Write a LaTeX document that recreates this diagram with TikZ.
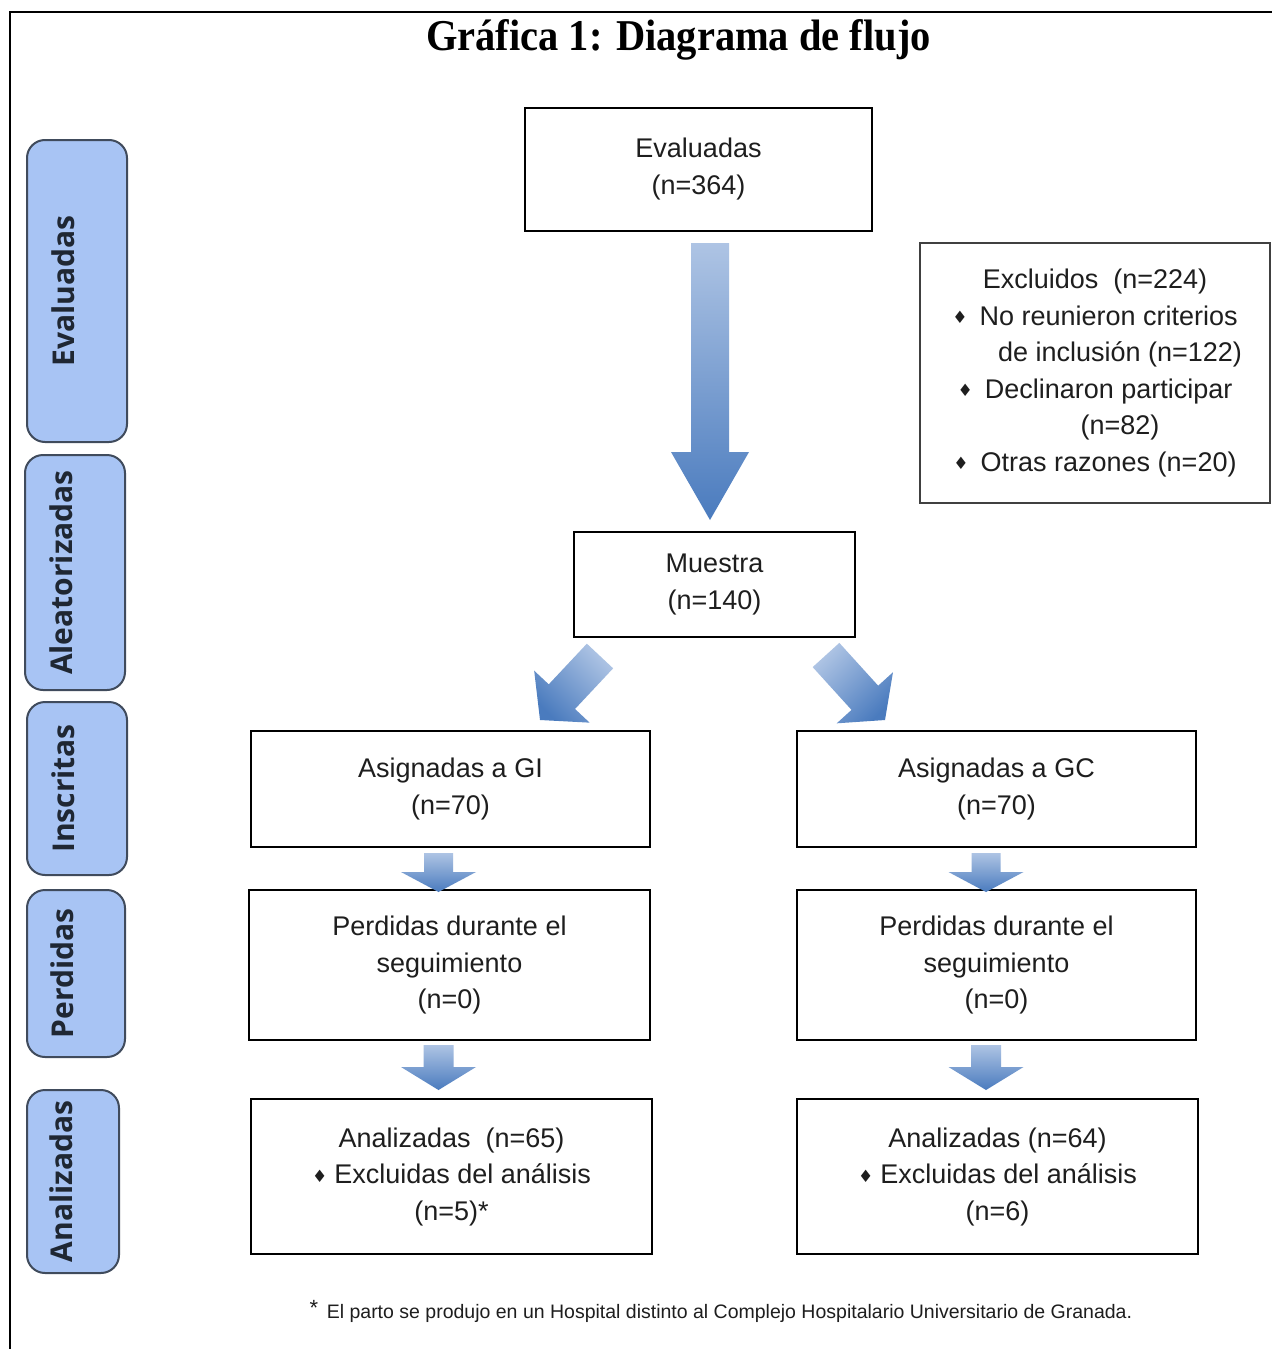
\documentclass[tikz,border=0pt]{standalone}
\usepackage{fontspec}
\usepackage{graphicx}
\setmainfont{Liberation Sans}
\newfontfamily\titlefont{Liberation Serif}
\newfontfamily\labfont{Open Sans}
\newfontfamily\symfont{DejaVu Sans}
\usetikzlibrary{calc}
\definecolor{labfill}{HTML}{A8C4F4}
\definecolor{labdraw}{HTML}{404B5C}
\definecolor{labtxt}{HTML}{1F2733}
\definecolor{arrlight}{HTML}{AEC4E4}
\definecolor{arrdark}{HTML}{4A7BBE}
\definecolor{txt}{HTML}{1E1E1E}
\newcommand\bul{\raisebox{1.5pt}{\symfont\fontsize{17}{17}\selectfont ♦}}
% block arrow: tail, tip, shaft half width, head half width, head length, shading angle
\newcommand\blockarrow[6]{%
  \coordinate (ba) at ($(#2)!#5!(#1)$);
  \shade[top color=arrlight, bottom color=arrdark, shading angle=#6]
    ($(#1)!#3!90:(#2)$) -- ($(ba)!#3!-90:(#1)$) -- ($(ba)!#4!-90:(#1)$) -- (#2)
    -- ($(ba)!#4!90:(#1)$) -- ($(ba)!#3!90:(#1)$) -- ($(#1)!#3!-90:(#2)$) -- cycle;
}
\begin{document}
\begin{tikzpicture}[x=1pt,y=-1pt,
  box/.style={draw=black, line width=2pt, fill=white, align=center, text=txt,
    font=\fontsize{27}{36.5}\selectfont, inner sep=0pt},
  lab/.style={draw=labdraw, fill=labfill, line width=2pt, rounded corners=18pt,
    rotate=90, text=labtxt, font=\labfont\bfseries\fontsize{30}{36}\selectfont, inner sep=0pt}]
\useasboundingbox (0,0) rectangle (1272,1349);
\fill[white] (0,0) rectangle (1272,1349);
\draw[line width=2.5pt] (10,1349) -- (10,12) -- (1272,12);

% title
\node[anchor=base, font=\titlefont\bfseries\fontsize{44}{44}\selectfont, text=black] (title) at (678.5,50)
  {\scalebox{0.92}[1]{Gráfica 1: Diagrama de flujo}};

% left stage labels
\node[lab, minimum width=302pt, minimum height=100pt] (lev) at (77,291) {\raisebox{3pt}[0pt][0pt]{Evaluadas}};
\node[lab, minimum width=235pt, minimum height=100pt] (lal) at (75,572.5) {\raisebox{3pt}[0pt][0pt]{Aleatorizadas}};
\node[lab, minimum width=173pt, minimum height=100pt] (lin) at (77,788.5) {\raisebox{3pt}[0pt][0pt]{Inscritas}};
\node[lab, minimum width=167pt, minimum height=98pt] (lpe) at (76,973.5) {\raisebox{3pt}[0pt][0pt]{Perdidas}};
\node[lab, minimum width=183pt, minimum height=92pt] (lan) at (73,1181.5) {\raisebox{1pt}[0pt][0pt]{Analizadas}};

% main boxes
\node[box, minimum width=347pt, minimum height=123pt] (ev) at (698.5,169) {Evaluadas\\(n=364)};
\node[box, draw=black!75, minimum width=350pt, minimum height=260pt] (ex) at (1095,373)
  {Excluidos\ \ (n=224)\\
   \bul\hspace{12pt}No reunieron criterios\\
   \hspace*{50pt}de inclusión (n=122)\\
   \bul\hspace{12pt}Declinaron participar\\
   \hspace*{50pt}(n=82)\\
   \bul\hspace{12pt}Otras razones (n=20)};
\node[box, minimum width=281pt, minimum height=105pt] (mu) at (714.5,584.5) {Muestra\\(n=140)};
\node[box, minimum width=399pt, minimum height=116pt] (gi) at (450.5,789) {Asignadas a GI\\(n=70)};
\node[box, minimum width=399pt, minimum height=116pt] (gc) at (996.5,789) {Asignadas a GC\\(n=70)};
\node[box, minimum width=401pt, minimum height=150pt] (pl) at (449.5,965) {Perdidas durante el\\seguimiento\\(n=0)};
\node[box, minimum width=399pt, minimum height=150pt] (pr) at (996.5,965) {Perdidas durante el\\seguimiento\\(n=0)};
\node[box, minimum width=401pt, minimum height=155pt] (al) at (451.5,1176.5)
  {Analizadas\ \ (n=65)\\\bul\hspace{7pt}Excluidas del análisis\\(n=5)*};
\node[box, minimum width=401pt, minimum height=155pt] (ar) at (997.5,1176.5)
  {Analizadas (n=64)\\\bul\hspace{7pt}Excluidas del análisis\\(n=6)};

% arrow end points
\coordinate (a0t) at (710,243);   \coordinate (a0p) at (710,520);
\coordinate (a1t) at (600,656);   \coordinate (a1p) at (540,720);
\coordinate (a2t) at (826,655);   \coordinate (a2p) at (885,720);
\coordinate (a3t) at (438.5,853); \coordinate (a3p) at (438.5,892);
\coordinate (a4t) at (986,853);   \coordinate (a4p) at (986,892);
\coordinate (a5t) at (438.5,1045);\coordinate (a5p) at (438.5,1090);
\coordinate (a6t) at (986,1045);  \coordinate (a6p) at (986,1090);

\blockarrow{a0t}{a0p}{19pt}{39pt}{68pt}{0}
\blockarrow{a1t}{a1p}{18pt}{38pt}{32pt}{-45}
\blockarrow{a2t}{a2p}{18pt}{38pt}{30pt}{45}
\blockarrow{a3t}{a3p}{14.5pt}{37.5pt}{20pt}{0}
\blockarrow{a4t}{a4p}{14.5pt}{37.5pt}{20pt}{0}
\blockarrow{a5t}{a5p}{15pt}{37.5pt}{23pt}{0}
\blockarrow{a6t}{a6p}{15pt}{37.5pt}{23pt}{0}

% footnote
\node[font=\fontsize{22}{22}\selectfont, text=txt] (ast) at (314,1308) {*};
\node[anchor=base, font=\fontsize{19.5}{19.5}\selectfont, text=txt] (fn) at (729.5,1318)
  {El parto se produjo en un Hospital distinto al Complejo Hospitalario Universitario de Granada.};
\end{tikzpicture}
\end{document}
